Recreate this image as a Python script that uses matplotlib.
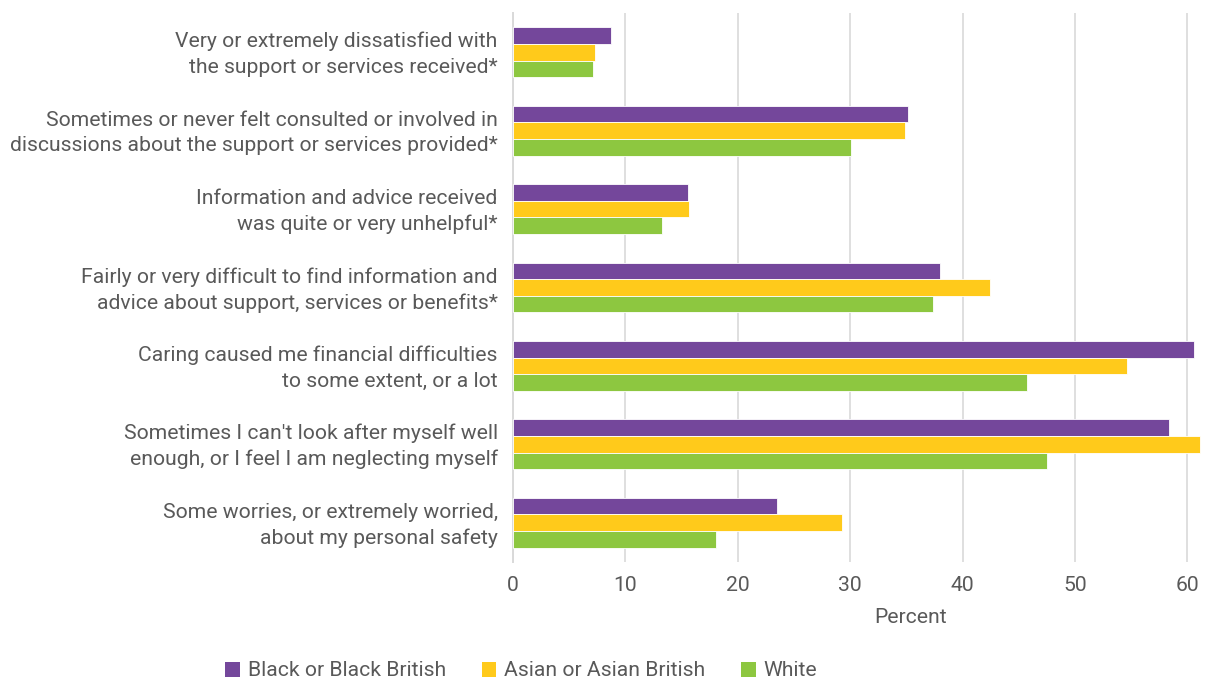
import matplotlib
matplotlib.use("Agg")
import matplotlib.pyplot as plt
import matplotlib.transforms as mtransforms
from matplotlib.patches import Patch
import numpy as np

plt.rcParams['font.family'] = ['Roboto', 'DejaVu Sans']

categories = [
    "Very or extremely dissatisfied with\nthe support or services received*",
    "Sometimes or never felt consulted or involved in\ndiscussions about the support or services provided*",
    "Information and advice received\nwas quite or very unhelpful*",
    "Fairly or very difficult to find information and\nadvice about support, services or benefits*",
    "Caring caused me financial difficulties\nto some extent, or a lot",
    "Sometimes I can't look after myself well\nenough, or I feel I am neglecting myself",
    "Some worries, or extremely worried,\nabout my personal safety",
]
series_names = ["Black or Black British", "Asian or Asian British", "White"]
black = [8.7, 35.1, 15.6, 38.0, 60.6, 58.4, 23.5]
asian = [7.3, 34.9, 15.7, 42.4, 54.6, 61.1, 29.3]
white = [7.1, 30.1, 13.3, 37.4, 45.7, 47.5, 18.1]
colors = ["#74479B", "#FFCA1B", "#8DC740"]
xticks = [0, 10, 20, 30, 40, 50, 60]

text_color = "#595959"
grid_color = "#D9D9D9"
fs = 15.2

fig = plt.figure(figsize=(12.09, 6.80), dpi=100)
ax = fig.add_axes([513 / 1209, 1 - 562 / 680, (1202 - 513) / 1209, (562 - 13) / 680])

n = len(categories)
y = np.arange(n)
bar_h = 0.212
for i, (vals, col) in enumerate(zip([black, asian, white], colors)):
    ax.barh(y + (i - 1) * bar_h, vals, height=bar_h, color=col,
            edgecolor="white", linewidth=0.6, label=series_names[i], zorder=3)

ax.set_ylim(n - 0.5, -0.5)
ax.set_xlim(0, 61.3)
ax.set_xticks(xticks)
ax.set_yticks(y)
ax.set_yticklabels(categories, fontsize=fs, color=text_color, linespacing=1.42)
ax.tick_params(axis="y", length=0, pad=11)
ax.tick_params(axis="x", length=0, pad=10, labelsize=fs, labelcolor=text_color)

# nudge the two-line category labels up slightly so they sit centred on each group
shift = mtransforms.ScaledTranslation(0, 3 / 100, fig.dpi_scale_trans)
for lbl in ax.get_yticklabels():
    lbl.set_transform(lbl.get_transform() + shift)

ax.xaxis.grid(True, color=grid_color, linewidth=1.2, zorder=0)
ax.set_axisbelow(True)
for s in ["top", "right", "bottom"]:
    ax.spines[s].set_visible(False)
ax.spines["left"].set_color(grid_color)
ax.spines["left"].set_linewidth(1.4)

ax.set_xlabel("Percent", fontsize=fs, color=text_color)
ax.xaxis.set_label_coords((911 - 513) / (1202 - 513), -0.083)

handles = [Patch(facecolor=c, edgecolor="none") for c in colors]
fig.legend(handles, series_names, loc="center", ncol=3, frameon=False,
           bbox_to_anchor=(521 / 1209, 1 - 671 / 680), fontsize=fs,
           labelcolor=text_color, handlelength=0.7, handleheight=0.7,
           handletextpad=0.35, columnspacing=1.7)

fig.savefig("out.png", dpi=100)
